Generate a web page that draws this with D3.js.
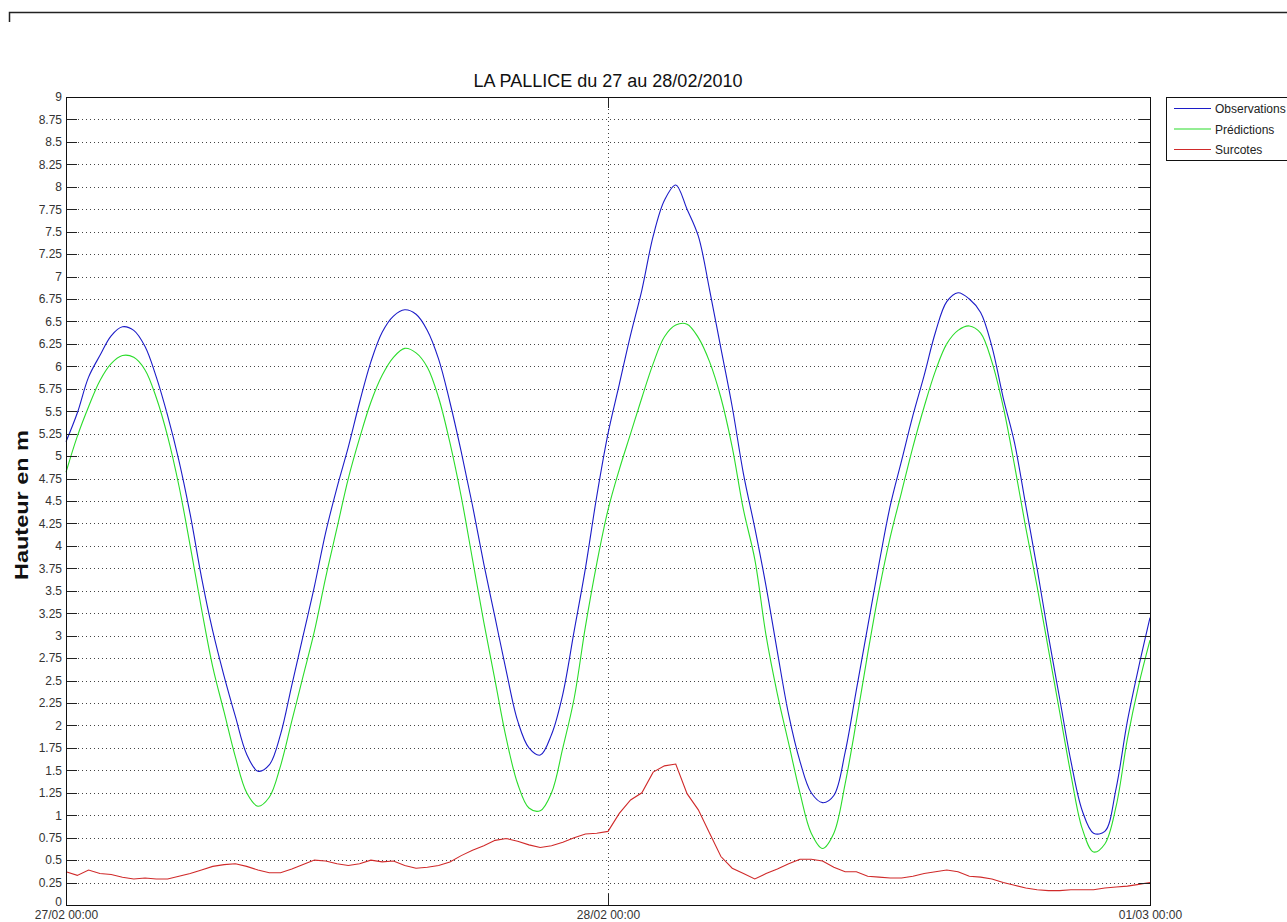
<!DOCTYPE html>
<html>
<head>
<meta charset="utf-8">
<script src="https://cdn.jsdelivr.net/npm/d3@7"></script>
<style>
  html, body { margin: 0; padding: 0; background: #fff; }
  svg { display: block; font-family: "Liberation Sans", Arial, sans-serif; }
</style>
</head>
<body>
<svg id="chart" width="1287" height="922"></svg>
<script>
const title = "LA PALLICE du 27 au 28/02/2010"
const yLabel = "Hauteur en m"
const seriesNames = ["Observations", "Prédictions", "Surcotes"]
const seriesColors = ["#1c1cc8", "#2bdc2b", "#d02a2a"]

// one sample every 30 minutes from 27/02 00:00 to 01/03 00:00
const startDate = new Date(2010, 1, 27, 0, 0)
const stepMinutes = 30
const dateTicks = [new Date(2010, 1, 27), new Date(2010, 1, 28), new Date(2010, 2, 1)]
const heightTicks = [0, 0.25, 0.5, 0.75, 1, 1.25, 1.5, 1.75, 2, 2.25, 2.5, 2.75, 3, 3.25, 3.5, 3.75,
  4, 4.25, 4.5, 4.75, 5, 5.25, 5.5, 5.75, 6, 6.25, 6.5, 6.75, 7, 7.25, 7.5, 7.75, 8, 8.25, 8.5, 8.75, 9]

const observations = [
  5.16, 5.48, 5.88, 6.12, 6.34, 6.44, 6.40, 6.22, 5.88, 5.45,
  4.95, 4.35, 3.65, 3.05, 2.55, 2.10, 1.68, 1.49, 1.56, 1.90,
  2.45, 3.00, 3.55, 4.15, 4.65, 5.10, 5.60, 6.05, 6.38, 6.56,
  6.63, 6.58, 6.40, 6.08, 5.60, 5.05, 4.45, 3.80, 3.20, 2.60,
  2.05, 1.75, 1.67, 1.90, 2.35, 3.05, 3.75, 4.55, 5.25, 5.80,
  6.35, 6.85, 7.45, 7.85, 8.02, 7.75, 7.45, 6.85, 6.20, 5.55,
  4.80, 4.20, 3.55, 2.82, 2.12, 1.60, 1.25, 1.14, 1.22, 1.70,
  2.40, 3.10, 3.80, 4.45, 4.95, 5.45, 5.90, 6.38, 6.72, 6.82,
  6.75, 6.60, 6.22, 5.65, 5.15, 4.45, 3.75, 3.00, 2.30, 1.60,
  1.05, 0.80, 0.82, 1.30, 2.05, 2.65, 3.20]

const predictions = [
  4.82, 5.22, 5.55, 5.84, 6.03, 6.12, 6.10, 5.96, 5.65, 5.22,
  4.67, 4.00, 3.30, 2.65, 2.15, 1.65, 1.25, 1.10, 1.20, 1.55,
  2.05, 2.55, 3.05, 3.65, 4.20, 4.75, 5.20, 5.60, 5.90, 6.10,
  6.20, 6.15, 5.99, 5.65, 5.15, 4.55, 3.85, 3.15, 2.50, 1.85,
  1.35, 1.08, 1.05, 1.25, 1.75, 2.30, 3.10, 3.80, 4.40, 4.85,
  5.25, 5.65, 6.03, 6.33, 6.46, 6.47, 6.32, 6.05, 5.65, 5.10,
  4.40, 3.85, 3.00, 2.35, 1.80, 1.25, 0.80, 0.63, 0.80, 1.35,
  2.05, 2.80, 3.50, 4.10, 4.60, 5.10, 5.55, 5.95, 6.25, 6.40,
  6.45, 6.37, 6.05, 5.55, 4.90, 4.20, 3.55, 2.85, 2.15, 1.45,
  0.85, 0.59, 0.68, 1.10, 1.85, 2.45, 2.95]

const surcotes = [
  0.37, 0.33, 0.39, 0.35, 0.34, 0.31, 0.29, 0.30, 0.29, 0.29,
  0.32, 0.35, 0.39, 0.43, 0.45, 0.46, 0.43, 0.39, 0.36, 0.36,
  0.40, 0.45, 0.50, 0.49, 0.46, 0.44, 0.46, 0.50, 0.48, 0.49,
  0.44, 0.41, 0.42, 0.44, 0.48, 0.55, 0.61, 0.66, 0.72, 0.74,
  0.71, 0.67, 0.64, 0.66, 0.70, 0.75, 0.79, 0.80, 0.82, 1.02,
  1.17, 1.25, 1.48, 1.55, 1.57, 1.24, 1.06, 0.80, 0.54, 0.41,
  0.35, 0.29, 0.35, 0.40, 0.46, 0.51, 0.51, 0.49, 0.42, 0.37,
  0.37, 0.32, 0.31, 0.30, 0.30, 0.32, 0.35, 0.37, 0.39, 0.37,
  0.32, 0.31, 0.29, 0.25, 0.22, 0.19, 0.17, 0.16, 0.16, 0.17,
  0.17, 0.17, 0.19, 0.20, 0.21, 0.23, 0.25]

const plotLeft = 66, plotRight = 1150, plotTop = 97, plotBottom = 905
const tickLen = 11

const svg = d3.select("#chart")

// frame corner of the figure window
svg.append("path")
  .attr("d", "M9.5,22V12.5H1287")
  .attr("fill", "none")
  .attr("stroke", "#222")
  .attr("stroke-width", 1.5)

const x = d3.scaleTime().domain([dateTicks[0], dateTicks[2]]).range([plotLeft, plotRight])
const y = d3.scaleLinear().domain([0, 9]).range([plotBottom, plotTop])
const times = observations.map((d, i) => d3.timeMinute.offset(startDate, i * stepMinutes))

// dotted grid
const grid = svg.append("g")
  .attr("stroke", "#444")
  .attr("stroke-dasharray", "1,3")
  .attr("shape-rendering", "crispEdges")
grid.selectAll("line.h")
  .data(heightTicks.slice(1, -1))
  .enter().append("line")
  .attr("class", "h")
  .attr("x1", plotLeft).attr("x2", plotRight)
  .attr("y1", d => Math.round(y(d)) + 0.5)
  .attr("y2", d => Math.round(y(d)) + 0.5)
grid.selectAll("line.v")
  .data(dateTicks.slice(1, -1))
  .enter().append("line")
  .attr("class", "v")
  .attr("y1", plotTop).attr("y2", plotBottom)
  .attr("x1", d => Math.round(x(d)) + 0.5)
  .attr("x2", d => Math.round(x(d)) + 0.5)

// the three series: tide curves smoothed, surge kept raw
const allSeries = [observations, predictions, surcotes]
const curves = [d3.curveCatmullRom, d3.curveCatmullRom, d3.curveLinear]
const line = d3.line()
  .x((d, i) => x(times[i]))
  .y(d => y(d))

svg.append("g")
  .selectAll("path")
  .data(allSeries)
  .enter().append("path")
  .attr("fill", "none")
  .attr("stroke", (d, i) => seriesColors[i])
  .attr("stroke-width", 1.1)
  .attr("d", (d, i) => line.curve(curves[i])(d))

// axes, ticks pointing inside
const fmtHeight = d => String(+d.toFixed(2))
const axisStyle = g => {
  g.select(".domain").remove()
  g.selectAll(".tick line").attr("stroke", "#222").attr("shape-rendering", "crispEdges")
  g.selectAll(".tick text")
    .attr("fill", "#333")
    .style("font-size", "12px")
    .style("font-family", "'Liberation Sans', Arial, sans-serif")
}

const yAxis = svg.append("g")
  .attr("transform", `translate(${plotLeft},0)`)
  .call(d3.axisLeft(y).tickValues(heightTicks).tickFormat(fmtHeight).tickSize(-tickLen).tickPadding(4))
  .call(axisStyle)
// lift the "0" a little so it clears the first date label
yAxis.selectAll(".tick text").filter(d => d === 0).attr("dy", "0.02em")

svg.append("g")
  .attr("transform", `translate(${plotRight},0)`)
  .call(d3.axisRight(y).tickValues(heightTicks).tickFormat("").tickSize(-tickLen))
  .call(axisStyle)
svg.append("g")
  .attr("transform", `translate(0,${plotBottom})`)
  .call(d3.axisBottom(x).tickValues(dateTicks).tickFormat(d3.timeFormat("%d/%m %H:%M")).tickSize(-tickLen).tickPadding(5.5))
  .call(axisStyle)
svg.append("g")
  .attr("transform", `translate(0,${plotTop})`)
  .call(d3.axisTop(x).tickValues(dateTicks).tickFormat("").tickSize(-tickLen))
  .call(axisStyle)

// plot box
svg.append("rect")
  .attr("x", plotLeft + 0.5).attr("y", plotTop + 0.5)
  .attr("width", plotRight - plotLeft).attr("height", plotBottom - plotTop)
  .attr("fill", "none")
  .attr("stroke", "#111")
  .attr("shape-rendering", "crispEdges")

svg.append("text")
  .attr("x", (plotLeft + plotRight) / 2)
  .attr("y", 87)
  .attr("text-anchor", "middle")
  .style("font-size", "18px")
  .style("fill", "#111")
  .text(title)

svg.append("text")
  .attr("transform", "translate(28,505) rotate(-90)")
  .attr("text-anchor", "middle")
  .attr("textLength", 150)
  .attr("lengthAdjust", "spacingAndGlyphs")
  .style("font-size", "18px")
  .style("font-weight", "bold")
  .style("fill", "#111")
  .text(yLabel)

// legend, cut by the right edge of the window
const legend = svg.append("g")
legend.append("rect")
  .attr("x", 1166.5).attr("y", 97.5)
  .attr("width", 200).attr("height", 63)
  .attr("fill", "#fff")
  .attr("stroke", "#111")
  .attr("shape-rendering", "crispEdges")
const item = legend.selectAll("g.item")
  .data(seriesNames)
  .enter().append("g")
  .attr("class", "item")
  .attr("transform", (d, i) => `translate(0,${108.5 + i * 20.5})`)
item.append("line")
  .attr("x1", 1174).attr("x2", 1211)
  .attr("stroke", (d, i) => seriesColors[i])
  .attr("stroke-width", 1.1)
item.append("text")
  .attr("x", 1215)
  .attr("y", 4.5)
  .style("font-size", "12px")
  .style("fill", "#222")
  .text(d => d)
</script>
</body>
</html>
